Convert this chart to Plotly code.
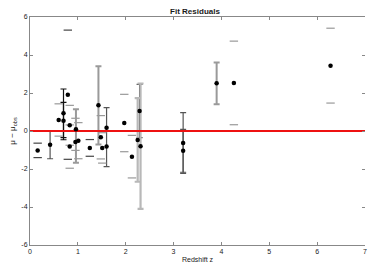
import plotly.graph_objects as go

# Data
z      = [0.16, 0.42, 0.60, 0.70, 0.70, 0.79, 0.83, 0.83, 0.96, 0.95, 1.01, 1.25, 1.43, 1.48, 1.51, 1.60, 1.60, 1.97, 2.13, 2.25, 2.29, 2.31, 3.20, 3.20, 3.90, 4.26, 6.28]
resid  = [-1.02, -0.72, 0.58, 0.93, 0.54, 1.91, 0.30, -0.82, 0.09, -0.58, -0.51, -0.89, 1.35, -0.33, -0.89, 0.17, -0.82, 0.42, -1.35, -0.47, 1.05, -0.80, -0.63, -1.04, 2.51, 2.53, 3.44]
err_up = [0.38, 0.74, 0.85, 1.28, 0.97, 3.40, 1.05, 1.14, 1.05, 1.25, 0.95, 0.44, 2.06, 1.14, 0.80, 1.06, 0.0, 1.51, 1.12, 2.20, 1.40, 3.30, 1.60, 1.13, 1.10, 2.20, 1.97]
err_dn = [0.38, 0.74, 0.85, 1.28, 1.00, 3.40, 1.05, 1.14, 1.76, 0.44, 0.95, 0.44, 2.06, 1.14, 0.80, 2.05, 0.0, 1.51, 1.12, 2.20, 1.40, 3.30, 1.60, 1.13, 1.10, 2.20, 1.97]
style  = ['ck', 'd', 'c', 'k', 'k', 'ck', 'c', 'c', 'g', 'c', 'c', 'ck', 'g', 'c', 'c', 'd', 'n', 'c', 'c', 'l', 'd', 'l', 'd', 'd', 'g', 'c', 'c']

y_ticks = [-6, -4, -2, 0, 2, 4, 6]
x_ticks = [0, 1, 2, 3, 4, 5, 6, 7]

FONT = "Liberation Sans Narrow, Liberation Sans, Arial, sans-serif"
TXT = '#1a1a1a'

fig = go.Figure()

bar_styles = {
    'k': dict(color='#111111', thickness=1.2),
    'd': dict(color='#555555', thickness=1.2),
    'g': dict(color='#9a9a9a', thickness=2),
    'l': dict(color='#b8b8b8', thickness=2.2),
}
for key, st in bar_styles.items():
    idx = [i for i, s in enumerate(style) if s == key]
    if not idx:
        continue
    fig.add_trace(go.Scatter(
        x=[z[i] for i in idx], y=[resid[i] for i in idx], mode='markers',
        marker=dict(size=1, color='rgba(0,0,0,0)'),
        error_y=dict(type='data', symmetric=False,
                     array=[err_up[i] for i in idx],
                     arrayminus=[err_dn[i] for i in idx],
                     color=st['color'], thickness=st['thickness'], width=3),
        showlegend=False, hoverinfo='skip'))

# caps-only error bars
cap_styles = {'c': '#999999', 'ck': '#444444'}
for key, col in cap_styles.items():
    idx = [i for i, s in enumerate(style) if s == key]
    cx = [z[i] for i in idx] * 2
    cy = [resid[i] + err_up[i] for i in idx] + [resid[i] - err_dn[i] for i in idx]
    fig.add_trace(go.Scatter(
        x=cx, y=cy, mode='markers',
        marker=dict(symbol='line-ew', size=6, line=dict(width=1.2, color=col)),
        showlegend=False, hoverinfo='skip'))

# zero line
fig.add_trace(go.Scatter(x=[0, 7], y=[0, 0], mode='lines',
                         line=dict(color='#ee1111', width=2),
                         showlegend=False, hoverinfo='skip'))

# data points
fig.add_trace(go.Scatter(x=z, y=resid, mode='markers',
                         marker=dict(size=4.5, color='black', symbol='circle'),
                         showlegend=False))

# invisible trace on the right-hand axis so its ticks are drawn
fig.add_trace(go.Scatter(x=[None], y=[None], yaxis='y2', showlegend=False, hoverinfo='skip'))

fig.update_layout(
    template='none',
    width=374, height=265,
    margin=dict(l=22, r=17, t=9, b=28),
    paper_bgcolor='white', plot_bgcolor='white',
    font=dict(family=FONT, size=7, color=TXT),
    title=dict(text='<b>Fit Residuals</b>', x=0.5, xanchor='center', y=0.998, yanchor='top',
               font=dict(size=8, family=FONT, color=TXT)),
    yaxis2=dict(overlaying='y', side='right', anchor='x', range=[-6, 6], tickvals=y_ticks,
                showticklabels=False, showline=False, showgrid=False, zeroline=False,
                ticks='inside', ticklen=3, tickcolor='#888888'),
)
fig.update_xaxes(range=[0, 7], tickvals=x_ticks, ticktext=[str(v) for v in x_ticks],
                 showgrid=False, zeroline=False, showline=True, linecolor='#888888',
                 linewidth=1, mirror='ticks', ticks='inside', ticklen=3, tickcolor='#888888',
                 tickfont=dict(color=TXT),
                 title=dict(text='Redshift z', font=dict(size=7, color=TXT), standoff=2))
fig.layout.yaxis.update(range=[-6, 6], tickvals=y_ticks, ticktext=[str(v) for v in y_ticks],
                        showgrid=False, zeroline=False, showline=True, linecolor='#888888',
                        linewidth=1, mirror=False, ticks='inside', ticklen=3, tickcolor='#888888',
                        tickfont=dict(color=TXT),
                        title=dict(text='μ − μ<sub>obs</sub>', font=dict(size=8, color=TXT), standoff=6))

fig.write_html("out.html")
